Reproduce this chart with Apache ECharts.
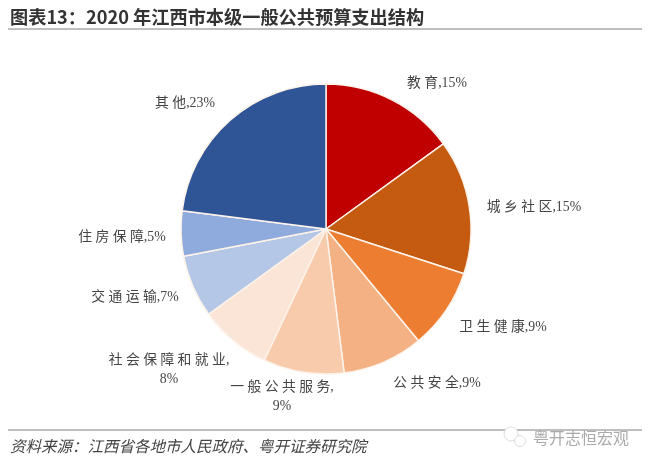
<!DOCTYPE html>
<html><head><meta charset="utf-8"><style>html,body{margin:0;background:#fff}#c{width:650px;height:466px}</style>
<script src="https://cdn.jsdelivr.net/npm/echarts@6/dist/echarts.min.js"></script></head><body><div id="c"></div>
<script>
const categories=['教育','城乡社区','卫生健康','公共安全','一般公共服务','社会保障和就业','交通运输','住房保障','其他'];
const labels=['教 育,15%','城 乡 社 区,15%','卫 生 健 康,9%','公 共 安 全,9%','一 般 公 共 服 务,\n9%','社 会 保 障 和 就 业,\n8%','交 通 运 输,7%','住 房 保 障,5%','其 他,23%'];
const values=[15,15,9,9,9,8,7,5,23];
const colors=['#c00000','#c55a11','#ed7d31','#f4b183','#f8cbad','#fbe5d6','#b4c7e7','#8faadc','#2f5597'];
const labelCentres=[[437,83],[534,207],[503,327],[437,383],[282,397],[169,370],[135,297],[122,237],[185,103]];
const chart=echarts.init(document.getElementById('c'));
chart.setOption({animation:false,
title:[{text:'图表13：2020 年江西市本级一般公共预算支出结构',left:5,top:3,textStyle:{fontFamily:'Noto Sans CJK SC',fontSize:18.2,fontWeight:'bold',color:'#333'}},
{text:'资料来源：江西省各地市人民政府、粤开证券研究院',left:5,top:433,textStyle:{fontFamily:'Noto Sans CJK SC',fontSize:15.5,fontStyle:'italic',fontWeight:'normal',color:'#444'}},
{text:'粤开志恒宏观',left:528,top:425,textStyle:{fontFamily:'Noto Sans CJK SC',fontSize:16,fontWeight:'normal',color:'#aaa'}}],
graphic:[{type:'line',shape:{x1:8,y1:29,x2:642,y2:29},style:{stroke:'#aaa',lineWidth:1.5}},
{type:'line',shape:{x1:8,y1:430,x2:642,y2:430},style:{stroke:'#aaa',lineWidth:1.5}},
{type:'circle',shape:{cx:511,cy:434,r:7},style:{fill:'#fff',stroke:'#ddd',lineWidth:1}},
{type:'circle',shape:{cx:520,cy:441,r:5.5},style:{fill:'#fff',stroke:'#ddd',lineWidth:1}}],
series:[{type:'pie',center:[326,229],radius:[0,145],startAngle:90,clockwise:true,
data:categories.map((n,i)=>({name:n,value:values[i],label:{formatter:labels[i]},itemStyle:{color:colors[i]}})),
itemStyle:{borderColor:'#fdf3ea',borderWidth:1.5},
label:{show:true,color:'#444',fontFamily:'Liberation Serif, Noto Sans CJK SC',fontSize:13.8,lineHeight:19,align:'center'},
labelLine:{show:false},
labelLayout:p=>({x:labelCentres[p.dataIndex][0],y:labelCentres[p.dataIndex][1],align:'center',verticalAlign:'middle'})}]});
</script></body></html>
